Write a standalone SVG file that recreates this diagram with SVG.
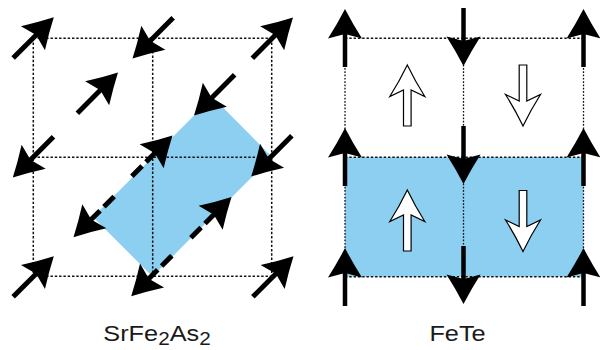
<svg xmlns="http://www.w3.org/2000/svg" xmlns:xlink="http://www.w3.org/1999/xlink" width="600" height="350" viewBox="0 0 600 350">
<style>
.grid{stroke:#111;stroke-width:1.5;stroke-dasharray:2.4 1.9;fill:none}
.gridv{stroke:#111;stroke-width:1.3;stroke-dasharray:1.7 1.6;fill:none}
.region{fill:#8ccff0;stroke:none}
.shaft{stroke:#000;stroke-width:5;fill:none}
.shaftv{stroke:#000;stroke-width:4.5;fill:none}
.broken{stroke-dasharray:14.5 5.5 30}
.head{fill:#000;stroke:none}
.open{fill:#fff;stroke:#000;stroke-width:1.2;stroke-linejoin:miter}
.label{font-family:"Liberation Sans",Arial,sans-serif;font-size:22px;fill:#1a1a1a}
</style>
<defs>
<path id="head" class="head" d="M29,0 Q14.5,7.5 -0.5,17 L4,0 L-0.5,-17 Q14.5,-7.5 29,0 Z"/>
<g id="spin"><line class="shaft" x1="-28.5" y1="0" x2="8" y2="0"/><use xlink:href="#head"/></g>
<g id="spinb"><line class="shaft broken" x1="-28.5" y1="0" x2="8" y2="0"/><use xlink:href="#head"/></g>
<g id="spinv"><line class="shaftv" x1="-29" y1="0" x2="8" y2="0"/><use xlink:href="#head"/></g>
<path id="openup" class="open" d="M0,-30.5 Q8,-14 17.5,1 L3.8,-5.5 L3.8,30.5 L-3.8,30.5 L-3.8,-5.5 L-17.5,1 Q-8,-14 0,-30.5 Z"/>
</defs>

<g id="srfe2as2">
<g id="region-left"><polygon class="region" points="212.5,97 272,157 152.5,276.5 93,217"/></g>
<g id="grid-left">
<line class="grid" x1="33.3" y1="38.3" x2="271.7" y2="38.3"/>
<line class="grid" x1="33.3" y1="157.3" x2="271.7" y2="157.3"/>
<line class="grid" x1="33.3" y1="276.3" x2="271.7" y2="276.3"/>
<line class="grid" x1="33.3" y1="38.3" x2="33.3" y2="276.3"/>
<line class="grid" x1="152.7" y1="38.3" x2="152.7" y2="276.3"/>
<line class="grid" x1="271.7" y1="38.3" x2="271.7" y2="276.3"/>
</g>
<g id="spin-l1"><use xlink:href="#spin" transform="translate(33.3,37.8) rotate(-45)"/></g>
<g id="spin-l2"><use xlink:href="#spin" transform="translate(153,38) rotate(135)"/></g>
<g id="spin-l3"><use xlink:href="#spin" transform="translate(272.5,38) rotate(-45)"/></g>
<g id="spin-l4"><use xlink:href="#spin" transform="translate(97.5,93) rotate(-45)"/></g>
<g id="spin-l5"><use xlink:href="#spin" transform="translate(214.5,95) rotate(135)"/></g>
<g id="spin-l6"><use xlink:href="#spin" transform="translate(33.3,157) rotate(135)"/></g>
<g id="spin-l7"><use xlink:href="#spinb" transform="translate(152,156) rotate(-45)"/></g>
<g id="spin-l8"><use xlink:href="#spin" transform="translate(271.7,156) rotate(135)"/></g>
<g id="spin-l9"><use xlink:href="#spinb" transform="translate(94,216.7) rotate(135)"/></g>
<g id="spin-l10"><use xlink:href="#spinb" transform="translate(211,217.5) rotate(-45)"/></g>
<g id="spin-l11"><use xlink:href="#spin" transform="translate(33.3,276.7) rotate(-45)"/></g>
<g id="spin-l12"><use xlink:href="#spinb" transform="translate(151.7,275.8) rotate(135)"/></g>
<g id="spin-l13"><use xlink:href="#spin" transform="translate(273,276.7) rotate(-45)"/></g>
<g id="label-left"><text class="label" transform="translate(157,341) scale(1.15,1)" text-anchor="middle">SrFe<tspan font-size="18" dy="4">2</tspan><tspan dy="-4">As</tspan><tspan font-size="18" dy="4">2</tspan></text></g>
</g>

<g id="fete">
<g id="region-right"><rect class="region" x="345" y="157.3" width="238.5" height="119.4"/></g>
<g id="grid-right">
<line class="grid" x1="345" y1="38.3" x2="583.5" y2="38.3"/>
<line class="grid" x1="345" y1="157.3" x2="583.5" y2="157.3"/>
<line class="grid" x1="345" y1="276.7" x2="583.5" y2="276.7"/>
<line class="gridv" x1="345" y1="38.3" x2="345" y2="276.7"/>
<line class="gridv" x1="463.5" y1="38.3" x2="463.5" y2="276.7"/>
<line class="gridv" x1="583.5" y1="38.3" x2="583.5" y2="276.7"/>
</g>
<g id="spin-r1"><use xlink:href="#spinv" transform="translate(345,38) rotate(-90)"/></g>
<g id="spin-r2"><use xlink:href="#spinv" transform="translate(463.5,37) rotate(90)"/></g>
<g id="spin-r3"><use xlink:href="#spinv" transform="translate(583.5,38) rotate(-90)"/></g>
<g id="spin-r4"><use xlink:href="#spinv" transform="translate(345,157) rotate(-90)"/></g>
<g id="spin-r5"><use xlink:href="#spinv" transform="translate(463.5,155) rotate(90)"/></g>
<g id="spin-r6"><use xlink:href="#spinv" transform="translate(583.5,157) rotate(-90)"/></g>
<g id="spin-r7"><use xlink:href="#spinv" transform="translate(345,277) rotate(-90)"/></g>
<g id="spin-r8"><use xlink:href="#spinv" transform="translate(463.5,275) rotate(90)"/></g>
<g id="spin-r9"><use xlink:href="#spinv" transform="translate(583.5,277) rotate(-90)"/></g>
<g id="open-1"><use xlink:href="#openup" transform="translate(407.3,95.5)"/></g>
<g id="open-2"><use xlink:href="#openup" transform="translate(523,95.5) rotate(180)"/></g>
<g id="open-3"><use xlink:href="#openup" transform="translate(407.3,220.5)"/></g>
<g id="open-4"><use xlink:href="#openup" transform="translate(523,221) rotate(180)"/></g>
<g id="label-right"><text class="label" transform="translate(457.5,341) scale(1.15,1)" text-anchor="middle">FeTe</text></g>
</g>
<g id="connectors"/>
</svg>
